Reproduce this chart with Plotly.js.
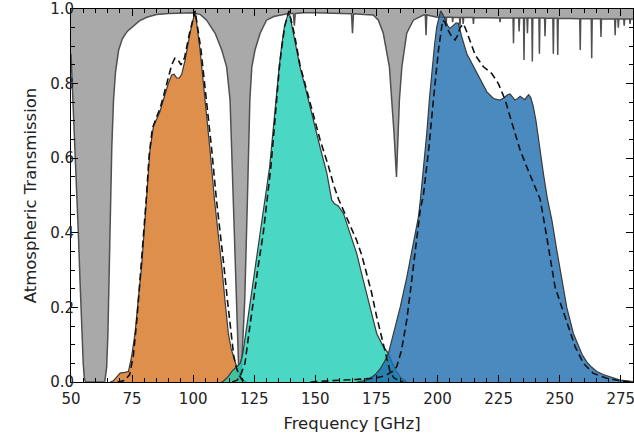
<!DOCTYPE html>
<html>
<head>
<meta charset="utf-8">
<script src="https://cdn.plot.ly/plotly-3.0.1.min.js"></script>
<style>html,body{margin:0;padding:0;background:#fff;}#chart{width:634px;height:438px;}</style>
</head>
<body>
<div id="chart"></div>
<script>
// Atmospheric transmission
const atmX = [50,50.5,51,51.6,52.3,53,53.7,54.4,55,55.5,56,63.8,64.2,64.6,65.1,65.6,66.1,66.7,67.4,68.2,69.5,71,73,75,78,81,85,90,95,100,103,105.5,107,109,111.7,113.7,115.1,116.4,117.5,118.4,118.8,119.8,121.1,122.2,123.2,124,125.3,127.4,130,133,135.5,139,141,141.4,141.8,145,150,160,164.8,165.2,165.6,170,173.7,175.8,177.8,180.3,181.4,182.2,183.2,183.8,184.4,185.4,187.4,190.1,194.2,195.0,195.3,195.6,200,203.3,203.5,203.7,206,206.2,206.4,209,209.2,209.4,210.3,210.5,210.7,214.5,214.7,214.9,225.4,225.6,225.8,230.9,231.1,231.3,233.2,233.4,233.6,235.2,235.4,235.6,236.6,236.8,237.0,238.6,238.8,239.0,241.5,241.7,241.9,243.8,244.0,244.2,247.2,247.4,247.6,249.0,249.2,249.4,258.2,258.4,258.6,262.9,263.1,263.3,266.7,266.9,267.1,272.5,272.7,272.9,273.8,274.0,274.2,276.2,276.4,276.6,278.6,278.8,279.0,280];
const atmY = [0.88,0.80,0.74,0.67,0.53,0.40,0.27,0.13,0.05,0.008,0,0,0.015,0.04,0.13,0.3,0.49,0.63,0.756,0.83,0.89,0.92,0.94,0.952,0.968,0.978,0.985,0.988,0.99,0.99,0.985,0.97,0.955,0.935,0.89,0.845,0.756,0.49,0.22,0.04,0,0.04,0.22,0.49,0.756,0.845,0.89,0.935,0.97,0.98,0.984,0.988,0.988,0.955,0.988,0.99,0.99,0.988,0.987,0.935,0.987,0.985,0.984,0.97,0.935,0.845,0.756,0.667,0.55,0.667,0.756,0.845,0.935,0.97,0.984,0.984,0.93,0.984,0.978,0.978,0.955,0.978,0.978,0.965,0.978,0.977,0.955,0.977,0.977,0.96,0.977,0.977,0.96,0.977,0.976,0.965,0.976,0.976,0.908,0.976,0.976,0.94,0.976,0.976,0.863,0.976,0.976,0.935,0.976,0.976,0.859,0.976,0.976,0.88,0.976,0.976,0.927,0.976,0.975,0.88,0.975,0.975,0.877,0.975,0.974,0.89,0.974,0.974,0.868,0.974,0.974,0.925,0.974,0.973,0.93,0.973,0.973,0.95,0.973,0.973,0.955,0.973,0.973,0.96,0.973,0.973];

// 90 GHz band (measured / model)
const orangeX = [66,67.3,68.5,70.1,72,73.5,74.8,76.2,77.5,78.9,79.9,81,82.3,83.7,85.1,86.4,87.8,89.8,91.2,92.2,93.3,94.3,95.3,96.7,98.7,100.8,102.8,104.9,106.9,108.7,110.3,111.7,113,114.4,115.5,116.4,117.8,118.8,119.8,121,122];
const orangeY = [0,0.003,0.012,0.024,0.026,0.028,0.068,0.13,0.22,0.31,0.40,0.49,0.62,0.684,0.707,0.725,0.756,0.80,0.823,0.825,0.815,0.815,0.825,0.863,0.935,0.995,0.89,0.756,0.622,0.49,0.40,0.31,0.22,0.13,0.09,0.068,0.041,0.025,0.01,0.002,0];
const orangeModelX = [69,72,74,75.5,77,78.5,79.8,80.8,82,83.3,85,86.5,88,89.7,91.2,92.5,93.6,95,96.5,98.5,100.8,103.2,105.5,107.6,109.5,111.2,112.6,114,115.4,116.6,117.6,118.6,120,122];
const orangeModelY = [0,0.004,0.02,0.07,0.17,0.29,0.40,0.49,0.61,0.68,0.71,0.735,0.77,0.81,0.85,0.868,0.866,0.85,0.87,0.935,0.995,0.89,0.756,0.622,0.49,0.40,0.31,0.22,0.13,0.07,0.04,0.02,0.006,0];

// 150 GHz band
const tealX = [111.5,112.3,114,116,118,119.2,120.3,121.5,123.5,125.5,127.5,129.6,131.3,132.6,133.8,135.2,136,137.3,139.2,141.7,143.7,146.5,149.2,151.9,154.7,156.7,157.8,159.4,161.5,164.2,166.9,169.6,172.4,175.1,177.8,179.9,181.5,183,185,187.5];
const tealY = [0,0.002,0.012,0.03,0.042,0.05,0.075,0.13,0.22,0.31,0.40,0.49,0.577,0.667,0.756,0.845,0.89,0.952,0.995,0.917,0.845,0.774,0.70,0.63,0.56,0.488,0.478,0.472,0.452,0.40,0.345,0.273,0.20,0.13,0.095,0.077,0.05,0.03,0.012,0];
const tealModelX = [116,118,119.5,121.2,122.8,124.6,126.6,128.7,130.4,131.8,133,134,135.3,136.3,137.5,139.2,141.5,143.7,146.5,148.5,151.9,155.3,157.4,159.5,161.5,164.2,166.9,169,171,173,175.1,177.1,179.2,180.5,182,184,186];
const tealModelY = [0,0.005,0.02,0.05,0.13,0.22,0.31,0.40,0.49,0.577,0.667,0.756,0.845,0.9,0.955,0.995,0.93,0.85,0.78,0.73,0.65,0.58,0.53,0.49,0.46,0.42,0.38,0.34,0.29,0.24,0.175,0.12,0.06,0.03,0.012,0.004,0];

// 220 GHz band
const blueX = [167,169.6,172,174.5,176.5,178.3,179.9,182,184.7,187.4,190.1,192.2,193,193.6,194.6,195.6,196.7,197.8,198.8,199.7,200.6,201.3,202.2,203.1,204.2,205.1,206.5,207.5,208.5,209.3,209.9,212,214.7,217.4,220.2,222.9,225.6,227.3,228.6,229.7,230.7,231.7,232.8,233.8,235,235.8,236.6,237.3,238.2,239.2,240.3,241.3,243.3,245,246.8,248.8,250.9,252.9,255.6,257.7,259.3,261.1,263,265.2,267.8,270.6,274.7,280];
const blueY = [0,0.003,0.008,0.02,0.035,0.055,0.077,0.13,0.20,0.28,0.37,0.443,0.49,0.53,0.6,0.667,0.76,0.845,0.905,0.953,0.98,0.995,0.985,0.97,0.955,0.948,0.955,0.962,0.962,0.945,0.926,0.88,0.845,0.81,0.778,0.76,0.756,0.762,0.77,0.772,0.765,0.756,0.76,0.766,0.76,0.757,0.765,0.77,0.762,0.738,0.7,0.649,0.56,0.49,0.434,0.354,0.273,0.20,0.13,0.095,0.072,0.054,0.04,0.028,0.02,0.014,0.005,0.001];
const blueModelX = [148,152,160.1,167,173.7,177,179.2,181.5,183.3,185.3,187.4,188.8,190.1,191.5,192.9,194.2,195.3,196.5,198.3,200.4,202.1,203,203.8,205.8,207.2,208.3,209.2,210.6,211.6,212.6,215.4,218.8,222.2,224.9,227.7,229.7,231.7,233.8,236.5,239.9,242,244,246.1,248.1,250.9,253.6,256.3,259.7,263.8,269.3,274.7,280];
const blueModelY = [0,0.002,0.005,0.007,0.01,0.014,0.019,0.028,0.041,0.086,0.166,0.238,0.31,0.39,0.46,0.50,0.56,0.63,0.756,0.89,0.97,0.965,0.95,0.926,0.917,0.93,0.95,0.96,0.945,0.926,0.877,0.845,0.827,0.80,0.756,0.711,0.667,0.622,0.577,0.524,0.49,0.416,0.327,0.255,0.20,0.148,0.095,0.05,0.023,0.01,0.003,0];

const xTicks = [50,75,100,125,150,175,200,225,250,275];
const yTicks = [0.0,0.2,0.4,0.6,0.8,1.0];

const outline = {color:'#3a3a3a', width:1.2};
const dashLine = {color:'#111', width:1.6, dash:'7px,4px'};

const traces = [
  {x:[50,280], y:[1,1], mode:'lines', line:{width:0, color:'rgba(0,0,0,0)'}, hoverinfo:'skip'},
  {x:atmX, y:atmY, mode:'lines', fill:'tonexty', fillcolor:'#a9a9a9', line:{color:'#505050', width:1.5}},
  {x:orangeX, y:orangeY, mode:'lines', fill:'tozeroy', fillcolor:'rgba(214,115,31,0.8)', line:outline},
  {x:tealX, y:tealY, mode:'lines', fill:'tozeroy', fillcolor:'rgba(29,206,181,0.8)', line:outline},
  {x:blueX, y:blueY, mode:'lines', fill:'tozeroy', fillcolor:'rgba(30,109,174,0.8)', line:outline},
  {x:orangeModelX, y:orangeModelY, mode:'lines', line:dashLine},
  {x:tealModelX, y:tealModelY, mode:'lines', line:dashLine},
  {x:blueModelX, y:blueModelY, mode:'lines', line:dashLine}
];

const font = {family:'DejaVu Sans', size:15, color:'#222'};
const axisCommon = {
  showgrid:false, zeroline:false, showline:true, linecolor:'#000', linewidth:1,
  mirror:'allticks', ticks:'inside', ticklen:7, tickwidth:1, tickcolor:'#000',
  tickfont:font, ticklabeloverflow:'allow'
};

const layout = {
  width:634, height:438,
  margin:{l:71, r:1, t:9, b:56},
  paper_bgcolor:'#fff', plot_bgcolor:'#fff',
  showlegend:false,
  font:font,
  xaxis:Object.assign({}, axisCommon, {
    range:[50,280], tickvals:xTicks, ticktext:xTicks.map(String),
    ticklabelstandoff:3,
    minor:{dtick:5, tick0:50, ticklen:4, tickcolor:'#000', ticks:'inside'},
    title:{text:'Frequency [GHz]', font:{family:'DejaVu Sans', size:16.5, color:'#222'}, standoff:10}
  }),
  yaxis:Object.assign({}, axisCommon, {
    range:[0,1], tickvals:yTicks, ticktext:yTicks.map(v=>v.toFixed(1)),
    ticklabelstandoff:-7,
    minor:{dtick:0.05, tick0:0, ticklen:4, tickcolor:'#000', ticks:'inside'},
    title:{text:'Atmospheric Transmission', font:{family:'DejaVu Sans', size:16.5, color:'#222'}, standoff:9}
  })
};

Plotly.newPlot('chart', traces, layout, {staticPlot:true, displayModeBar:false});
</script>
</body>
</html>
